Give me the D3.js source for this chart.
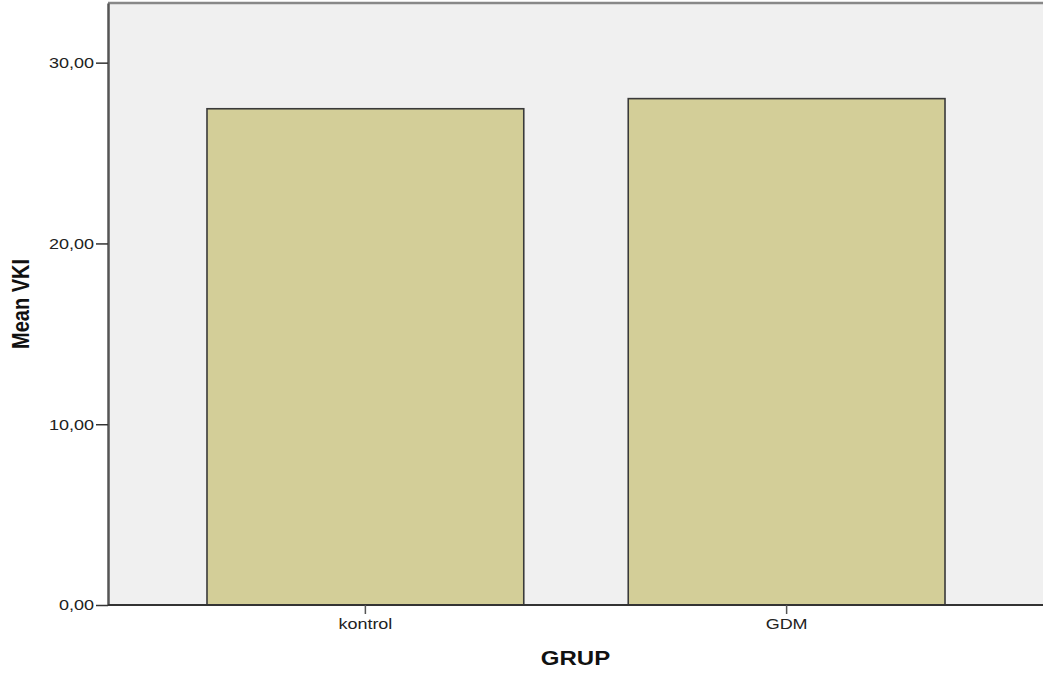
<!DOCTYPE html>
<html>
<head>
<meta charset="utf-8">
<script src="https://cdnjs.cloudflare.com/ajax/libs/d3/7.8.5/d3.min.js"></script>
<style>
  html, body { margin: 0; padding: 0; background: #ffffff; }
  svg { display: block; }
</style>
</head>
<body>
<svg id="chart" width="1043" height="673"></svg>
<script>
// ---- data ----
const categories = ["kontrol", "GDM"];
const meanValues = [27.45, 28.01];
const yTicks = [0, 10, 20, 30];
const yMax = 33.3;
const xTitle = "GRUP";
const yTitle = "Mean VKI";

// ---- layout ----
const W = 1043, H = 673;
const m = { left: 108, right: 0, top: 3, bottom: 68 };
const svg = d3.select("#chart");
const stretch = 1.2;
const font = "'Liberation Sans', Arial, Helvetica, sans-serif";

const x = d3.scaleBand()
  .domain(categories)
  .range([m.left, W + 1])
  .paddingInner(0.248)
  .paddingOuter(0.235);

const y = d3.scaleLinear()
  .domain([0, yMax])
  .range([H - m.bottom, m.top]);

// panel background
svg.append("rect")
  .attr("x", m.left).attr("y", y(yMax))
  .attr("width", W - m.left).attr("height", y(0) - y(yMax))
  .attr("fill", "#f0f0f0");

// top border
svg.append("line")
  .attr("x1", m.left).attr("x2", W)
  .attr("y1", y(yMax)).attr("y2", y(yMax))
  .attr("stroke", "#888").attr("stroke-width", 2.5);

// bars
svg.selectAll("rect.bar")
  .data(categories)
  .enter().append("rect")
  .attr("class", "bar")
  .attr("x", d => x(d))
  .attr("width", x.bandwidth())
  .attr("y", (d, i) => y(meanValues[i]))
  .attr("height", (d, i) => y(0) - y(meanValues[i]))
  .attr("fill", "#d3ce98")
  .attr("stroke", "#3a3a3a")
  .attr("stroke-width", 1.6);

// y axis
const yAxis = d3.axisLeft(y)
  .tickValues(yTicks)
  .tickSizeInner(12)
  .tickSizeOuter(0)
  .tickPadding(2)
  .tickFormat(d => d3.format(".2f")(d).replace(".", ","));
const gy = svg.append("g")
  .attr("transform", `translate(${m.left},0)`)
  .call(yAxis);
gy.select(".domain").attr("stroke", "#555").attr("stroke-width", 2.5);
gy.selectAll(".tick line").attr("stroke", "#333").attr("stroke-width", 1.5);
gy.selectAll(".tick text")
  .attr("font-family", font).attr("font-size", 15).attr("fill", "#222")
  .each(function () {
    const t = d3.select(this);
    const xx = +t.attr("x");
    t.attr("x", null)
     .attr("transform", `translate(${xx},0) scale(${stretch},1)`);
  });

// x axis
const xAxis = d3.axisBottom(x).tickSizeInner(9).tickSizeOuter(0).tickPadding(4);
const gx = svg.append("g")
  .attr("transform", `translate(0,${y(0)})`)
  .call(xAxis);
gx.select(".domain").attr("stroke", "#333").attr("stroke-width", 2)
  .attr("d", `M${m.left},0H${W}`);
gx.selectAll(".tick line").attr("stroke", "#555").attr("stroke-width", 1.5);
gx.selectAll(".tick text")
  .attr("font-family", font).attr("font-size", 15).attr("fill", "#222")
  .each(function () {
    const t = d3.select(this);
    const yy = +t.attr("y");
    t.attr("y", null)
     .attr("transform", `translate(0,${yy}) scale(${stretch},1)`);
  });

// axis titles
svg.append("text")
  .attr("transform", `translate(${(m.left + W) / 2},${665}) scale(${stretch},1)`)
  .attr("text-anchor", "middle")
  .attr("font-family", font).attr("font-weight", "bold").attr("font-size", 20)
  .attr("fill", "#111")
  .text(xTitle);

svg.append("text")
  .attr("transform", `translate(29,${(y(0) + y(yMax)) / 2}) scale(${stretch},1) rotate(-90)`)
  .attr("text-anchor", "middle")
  .attr("font-family", font).attr("font-weight", "bold").attr("font-size", 20)
  .attr("fill", "#111")
  .text(yTitle);
</script>
</body>
</html>
